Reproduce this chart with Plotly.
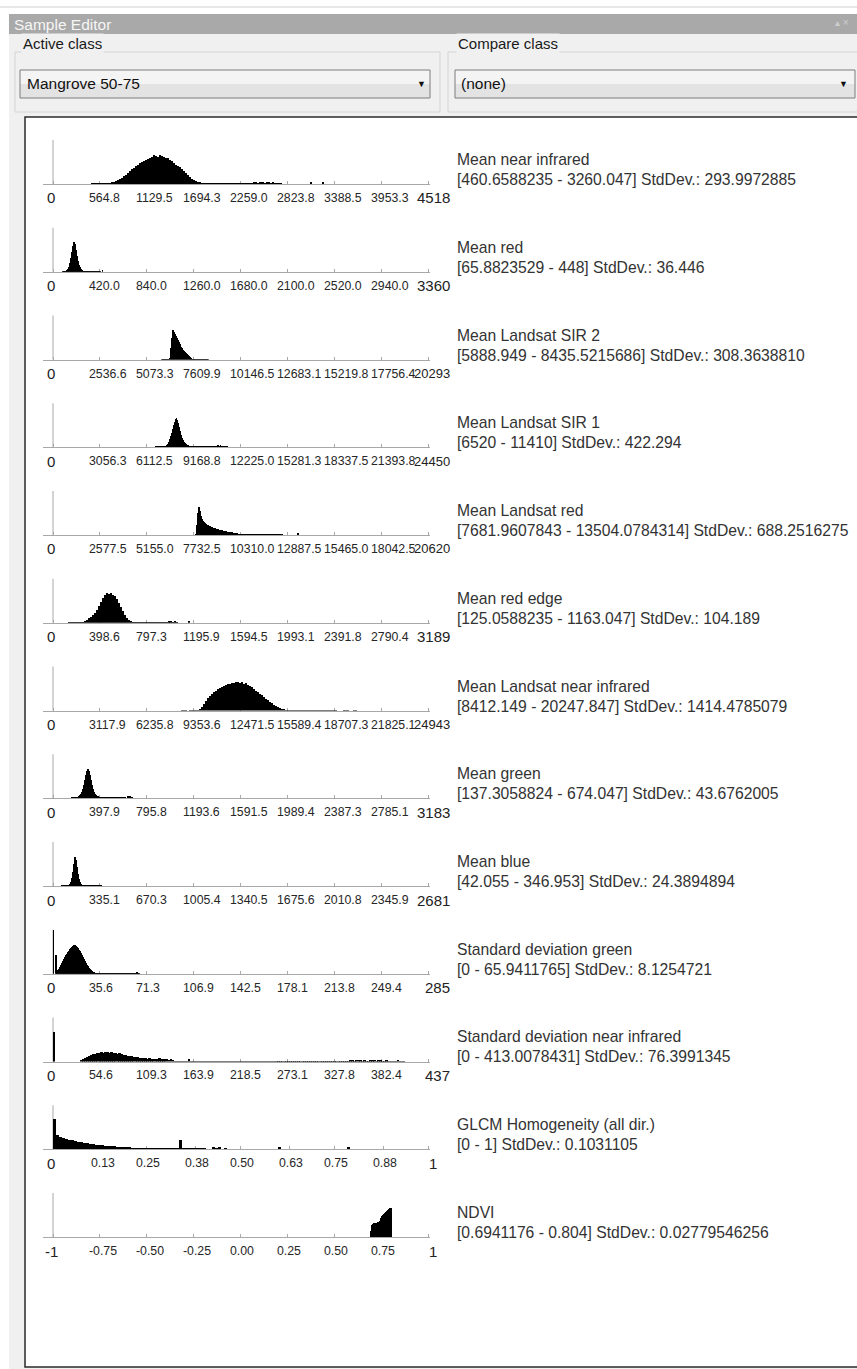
import plotly.graph_objects as go

W, H = 857, 1369

# ---------------------------------------------------------------- data
feature_names = [
    "Mean near infrared", "Mean red", "Mean Landsat SIR 2", "Mean Landsat SIR 1",
    "Mean Landsat red", "Mean red edge", "Mean Landsat near infrared", "Mean green",
    "Mean blue", "Standard deviation green", "Standard deviation near infrared",
    "GLCM Homogeneity (all dir.)", "NDVI",
]
range_lo = ["460.6588235", "65.8823529", "5888.949", "6520", "7681.9607843", "125.0588235",
            "8412.149", "137.3058824", "42.055", "0", "0", "0", "0.6941176"]
range_hi = ["3260.047", "448", "8435.5215686", "11410", "13504.0784314", "1163.047",
            "20247.847", "674.047", "346.953", "65.9411765", "413.0078431", "1", "0.804"]
std_dev = ["293.9972885", "36.446", "308.3638810", "422.294", "688.2516275", "104.189",
           "1414.4785079", "43.6762005", "24.3894894", "8.1254721", "76.3991345",
           "0.1031105", "0.02779546256"]

tick_labels = [
    ["0", "564.8", "1129.5", "1694.3", "2259.0", "2823.8", "3388.5", "3953.3", "4518"],
    ["0", "420.0", "840.0", "1260.0", "1680.0", "2100.0", "2520.0", "2940.0", "3360"],
    ["0", "2536.6", "5073.3", "7609.9", "10146.5", "12683.1", "15219.8", "17756.4", "20293"],
    ["0", "3056.3", "6112.5", "9168.8", "12225.0", "15281.3", "18337.5", "21393.8", "24450"],
    ["0", "2577.5", "5155.0", "7732.5", "10310.0", "12887.5", "15465.0", "18042.5", "20620"],
    ["0", "398.6", "797.3", "1195.9", "1594.5", "1993.1", "2391.8", "2790.4", "3189"],
    ["0", "3117.9", "6235.8", "9353.6", "12471.5", "15589.4", "18707.3", "21825.1", "24943"],
    ["0", "397.9", "795.8", "1193.6", "1591.5", "1989.4", "2387.3", "2785.1", "3183"],
    ["0", "335.1", "670.3", "1005.4", "1340.5", "1675.6", "2010.8", "2345.9", "2681"],
    ["0", "35.6", "71.3", "106.9", "142.5", "178.1", "213.8", "249.4", "285"],
    ["0", "54.6", "109.3", "163.9", "218.5", "273.1", "327.8", "382.4", "437"],
    ["0", "0.13", "0.25", "0.38", "0.50", "0.63", "0.75", "0.88", "1"],
    ["-1", "-0.75", "-0.50", "-0.25", "0.00", "0.25", "0.50", "0.75", "1"],
]

# relative sample frequency per bin, bins spanning [range_lo, range_hi]
freq_mean_nir = [
    1, 1, 1, 1, 1, 1, 1, 1, 1, 1,
    2, 2, 3, 4, 5, 6, 8, 9, 11, 13, 15,
    16, 18, 19, 21, 22, 23, 24,
    25, 26, 27, 29, 28, 27, 29, 28, 27, 26, 26,
    24, 23, 21, 19, 18, 17,
    15, 13, 11, 9, 7,
    5, 4, 3, 2, 2,
    1, 1, 1, 1, 1, 1, 1, 1, 1, 1, 1, 1, 1, 1, 1, 1, 1, 1, 1, 1,
    1, 1, 1, 1, 1, 1, 2, 2, 1, 2, 2, 1, 2, 2, 1, 2, 1, 1, 1, 1, 0,
    0, 0, 0, 0, 0, 0, 0, 0, 0, 0, 0, 0, 0, 2, 0, 0, 0, 0, 0, 2,
]
freq_mean_red = [
    0, 0, 1, 1, 1, 1, 2, 3,
    5, 9, 14, 20, 26, 30, 28, 22, 16, 11, 7, 5, 3, 2,
    1, 1, 1, 1, 1, 1, 1, 1, 1, 1, 1, 1, 1, 1, 1, 1, 1, 1,
    0, 0, 2,
]
freq_sir2 = [
    1, 1, 1, 1, 1, 1, 1, 1, 2,
    12, 22, 30, 28, 26,
    24, 22, 20, 18, 16, 13, 12, 10, 9,
    8, 7, 6, 5, 4, 3, 2,
    1, 1, 1, 1, 1, 1, 1, 1, 1, 1, 1, 1, 1, 1, 1, 1, 1,
]
freq_sir1 = [
    0, 0, 1, 1, 1, 1, 1, 1, 1, 1, 1, 1, 1, 2,
    3, 5, 8, 11, 14, 18, 22, 25, 28, 29, 27, 24, 20, 16, 12, 9, 7, 5, 4, 3, 2, 2, 1,
    1, 1, 1, 1, 1, 1, 1, 1, 1, 1, 1, 1, 1, 1, 1, 1, 1, 1, 1, 1,
    1, 1, 1, 1, 1, 1, 1, 2, 2, 1, 2, 1, 1, 1, 1, 1, 1, 1,
]
freq_landsat_red = [
    0, 0, 0, 1,
    10, 22, 28, 24, 19, 16,
    14, 13, 12, 11, 10, 10, 9, 9, 8, 8,
    7, 7, 7, 6, 6, 6, 5, 5, 5, 5,
    4, 4, 4, 4, 3, 3, 3, 3, 3, 3, 2, 2, 2, 2, 2,
    1, 1, 1, 1, 1, 1, 1, 1, 1, 1, 1, 1, 1, 1, 1, 1, 1, 1, 1, 1, 1, 1, 1,
    1, 1, 1, 1, 1, 1, 1, 1, 1, 1, 1, 1, 1, 1, 1, 1, 1, 1, 1, 1, 1, 1,
    0, 0, 0, 0, 0, 0, 0, 0, 0, 0, 0, 0, 0, 0, 0, 2,
]
freq_red_edge = [
    1, 1, 1, 1, 1, 1, 1, 1, 2,
    3, 5, 6, 8, 10, 13, 17,
    21, 25, 28, 30, 29, 30, 28, 27,
    24, 20, 16, 12, 8, 5, 3, 2, 1,
    1, 1, 1, 1, 1, 1, 1, 1, 1, 1, 1, 1, 1, 1, 1, 1,
    1, 2, 2, 1, 2, 1,
    0, 0, 0, 0, 0,
    2,
]
freq_landsat_nir = [
    0, 1, 1, 1, 0, 1, 1, 1, 1, 1, 2,
    4, 7, 10, 13, 15, 17, 19, 20, 22, 23, 24, 25, 26, 27, 27, 28, 28, 29, 29,
    28, 29, 27, 28, 26, 25, 24, 22, 20, 19, 17, 16, 14, 12, 11, 9, 8, 6, 5, 4, 3, 2, 2,
    1, 1, 1, 1, 1, 1, 1, 1, 1, 1, 1, 1, 1, 1, 1, 1, 1, 1, 1, 1, 1, 1, 1, 1, 1, 1,
    0, 0, 0, 1, 1, 1, 0, 0, 1, 1,
]
freq_green = [
    0, 0, 1, 1, 1, 1, 1, 1, 1, 2, 3,
    4, 6, 9, 13, 18, 23, 27, 29, 27, 23, 18, 13, 9, 6, 4, 3, 2, 2,
    1, 1, 1, 1, 1, 1, 1, 1, 1, 1, 1, 1, 1, 1, 1, 1, 1, 1, 1, 1, 1, 1, 1, 1, 1, 1, 1,
    0, 0, 2, 0, 2, 0, 1,
]
freq_blue = [
    0, 0, 0, 1, 1, 1, 1, 1, 1, 1, 1, 2,
    4, 8, 14, 22, 29, 26, 19, 12, 7, 4, 2,
    1, 1, 1, 1, 1, 1, 1, 1, 1, 1, 1, 1, 1, 1, 1, 1, 1, 1, 1, 1,
]
freq_sd_green = [
    44, 0, 0, 19,
    3, 4, 5, 7, 9,
    11, 13, 15, 17, 19, 20, 22, 23, 25, 26, 27, 28, 29, 29,
    28, 27, 26, 24, 23, 21, 19, 17, 15, 13, 11, 9, 8, 6, 5, 4, 3, 2, 2,
    1, 1, 1, 1, 1, 1, 1, 1, 1, 1, 1, 1, 1, 1, 1, 1, 1, 1, 1, 1, 1,
    1, 1, 1, 1, 1, 1, 1, 1, 1, 1, 1, 1, 1, 1, 1, 1, 1, 1, 1, 1, 1,
    2, 1, 1,
]
freq_sd_nir = [
    30,
    0, 0, 0, 0, 0, 0, 0, 0, 0, 0, 0, 0, 0,
    2, 3, 4, 5, 6, 7, 8, 8, 9, 9,
    10, 9, 10, 10, 9, 10, 9, 9, 8, 9,
    8, 7, 7, 6, 6, 6, 5, 5, 5, 4,
    4, 4, 4, 3, 4, 3, 3, 3, 3, 4, 3, 3, 3, 3, 2, 3, 2,
    1, 1, 1, 1, 1, 1, 1,
    3,
    1, 1, 1, 1, 1, 1, 1, 1, 1, 1, 1, 1, 1, 1, 1, 1, 1, 1, 1, 1,
    1, 1, 1, 1, 1, 1, 1, 1, 1, 1, 1, 1, 1, 1, 1, 1, 1, 1, 1, 1,
    1, 1, 1, 1, 1, 1, 1, 1, 1, 1, 1, 1, 1, 1, 1, 1, 1, 1, 1, 1,
    1, 1, 1, 1, 1, 1, 1, 1, 1, 1, 1, 1, 1, 1, 1, 1, 1, 1,
    1, 1, 2, 2, 1, 2, 2, 2, 1, 2, 1, 1, 2, 2, 2, 1, 2, 2, 1, 1, 2, 1, 1, 1, 1, 1, 2, 1, 1, 1, 0,
]
freq_glcm = [
    30, 14, 12, 11, 10, 9, 9, 8, 7, 7, 6, 6, 5, 5, 4, 4, 4, 3, 3, 3, 3, 2,
    2, 2, 2, 2, 1, 1, 1, 1,
    1, 1, 1, 1, 1, 1, 1, 1, 1, 1, 1, 1,
    9,
    1, 1, 1, 1, 1, 1, 1, 1,
    0, 0,
    2, 1, 2, 0, 1, 0,
    0, 0, 0, 0, 0, 0, 0, 0, 0, 0, 0, 0, 0, 0, 0, 0,
    2,
    0, 0, 0, 0, 0, 0, 0, 0, 0, 0, 0, 0, 0, 0, 0, 0, 0, 0, 0, 0, 0, 0,
    2,
    0, 0, 0, 0, 0, 0, 0, 0, 0, 0, 0, 0, 0, 0, 0, 0, 0, 0, 0, 0, 0, 0, 0, 0, 0, 0,
]
freq_ndvi = [6, 12, 13, 14, 14, 14, 14, 15, 15, 16, 19, 21, 22, 23, 24, 25, 26, 27, 28, 29, 29]

frequencies = [
    freq_mean_nir, freq_mean_red, freq_sir2, freq_sir1, freq_landsat_red, freq_red_edge,
    freq_landsat_nir, freq_green, freq_blue, freq_sd_green, freq_sd_nir, freq_glcm, freq_ndvi,
]

# ---------------------------------------------------------------- layout helpers
FONT = "Liberation Sans, Arial, sans-serif"
AXIS_GREY = "#a8a8a8"
ROW0_BASE, ROW_STEP, AXIS_H = 184.0, 87.75, 44.0
X_LEFT, X_ZERO, X_END, X_RIGHT = 43.0, 53.0, 428.0, 430.0
LABEL_RIGHT = 452.0
TEXT_X = 455.0


def px(x):
    return x / W


def py(y):
    return 1 - y / H


def rect(x0, y0, x1, y1, fill, line=None, lw=0):
    return dict(type="rect", xref="paper", yref="paper", layer="below",
                x0=px(x0), x1=px(x1), y0=py(y1), y1=py(y0),
                fillcolor=fill, line=dict(color=line or fill, width=lw))


shapes = [
    dict(type="line", xref="paper", yref="paper", layer="below",
         x0=0, x1=1, y0=py(7), y1=py(7), line=dict(color="#cfcfcf", width=1)),
    rect(9, 14, W, H, "#f0f0f0"),
    rect(9, 14, W, 34, "#a9a9a9"),
    rect(15, 52, 440, 112, "rgba(0,0,0,0)", "#d4d4d4", 1),
    rect(448, 52, W + 3, 112, "rgba(0,0,0,0)", "#d4d4d4", 1),
    rect(20, 70, 430, 84, "#f4f4f4"),
    rect(20, 84, 430, 98, "#e3e3e3"),
    rect(20, 70, 430, 98, "rgba(0,0,0,0)", "#7d7d7d", 1),
    rect(455, 70, 855, 84, "#f4f4f4"),
    rect(455, 84, 855, 98, "#e3e3e3"),
    rect(455, 70, 855, 98, "rgba(0,0,0,0)", "#7d7d7d", 1),
    rect(25, 117, W + 5, 1367, "white", "#2a2a2a", 1.5),
]


def label(x, y, text, size, color="#1a1a1a", bg=None, anchor="left"):
    d = dict(xref="paper", yref="paper", x=px(x), y=py(y), text=text, showarrow=False,
             xanchor=anchor, yanchor="middle", font=dict(family=FONT, size=size, color=color))
    if bg:
        d["bgcolor"] = bg
    return d


annotations = [
    label(12, 24, "Sample Editor", 15.5, color="#f6f6f6"),
    label(851, 23, "▴ ×", 10, color="#cdcdcd", anchor="right"),
    label(21, 44, "Active class", 15, bg="#f0f0f0"),
    label(456, 44, "Compare class", 15, bg="#f0f0f0"),
    label(25, 84, "Mangrove 50-75", 15.5, color="#111111"),
    label(459, 84, "(none)", 15.5, color="#111111"),
    label(421, 84, "▼", 9, color="#111111", anchor="center"),
    label(843, 84, "▼", 9, color="#111111", anchor="center"),
]

fig = go.Figure()
layout_axes = {}

for i, heights in enumerate(frequencies):
    suffix = "" if i == 0 else str(i + 1)
    xa, ya = f"x{suffix}", f"y{suffix}"
    lo, hi = float(range_lo[i]), float(range_hi[i])
    bin_w = (hi - lo) / len(heights)
    centers = [lo + (k + 0.5) * bin_w for k in range(len(heights))]

    fig.add_trace(go.Bar(
        x=centers, y=heights, width=bin_w, xaxis=xa, yaxis=ya,
        marker=dict(color="black", line=dict(width=0)),
        hoverinfo="skip", showlegend=False,
    ))

    ticks = tick_labels[i]
    tick_vals = [float(t) for t in ticks]
    t_min, t_max = tick_vals[0], tick_vals[-1]
    unit = (t_max - t_min) / (X_END - X_ZERO)
    base = ROW0_BASE + ROW_STEP * i

    layout_axes[f"xaxis{suffix}"] = dict(
        domain=[px(X_LEFT), px(X_RIGHT)], anchor=ya,
        range=[t_min - (X_ZERO - X_LEFT) * unit, t_max + (X_RIGHT - X_END) * unit],
        showline=True, linecolor=AXIS_GREY, linewidth=1, layer="below traces",
        ticks="inside", ticklen=3, tickwidth=1, tickcolor=AXIS_GREY,
        tickmode="array", tickvals=tick_vals, showticklabels=False,
        showgrid=False, zeroline=False, fixedrange=True,
    )
    layout_axes[f"yaxis{suffix}"] = dict(
        domain=[py(base), py(base - AXIS_H)], anchor=xa, range=[0, AXIS_H],
        visible=False, fixedrange=True,
    )

    # vertical axis at the start of the value scale
    shapes.append(dict(type="line", xref=xa, yref=f"{ya} domain", layer="below",
                       x0=t_min, x1=t_min, y0=0, y1=1,
                       line=dict(color=AXIS_GREY, width=1)))

    # scale labels: inner labels start just left of their tick, the end labels
    # are larger; a long end value is set a little smaller so it stays clear
    last = len(ticks) - 1
    for k, text in enumerate(ticks):
        ann = dict(xref=xa, yref=f"{ya} domain", x=tick_vals[k], y=0, text=text,
                   showarrow=False, yanchor="middle", yshift=-14)
        if k == 0:
            ann.update(xanchor="center", xshift=-2,
                       font=dict(family=FONT, size=15, color="#222222"))
        elif k == last:
            if len(text) >= 3:
                ann.update(xanchor="right", xshift=LABEL_RIGHT - X_END,
                           font=dict(family=FONT, size=13 if len(text) >= 5 else 15,
                                     color="#222222"))
            else:
                ann.update(xanchor="center", xshift=5,
                           font=dict(family=FONT, size=15, color="#222222"))
        else:
            ann.update(xanchor="left", xshift=-12.5,
                       font=dict(family=FONT, size=12.3, color="#262626"))
        annotations.append(ann)

    # feature caption
    annotations.append(dict(
        xref="paper", yref=f"{ya} domain", x=px(TEXT_X), y=0, yshift=24.5,
        text=feature_names[i], showarrow=False, xanchor="left", yanchor="middle",
        font=dict(family=FONT, size=15.7, color="#333333"),
    ))
    annotations.append(dict(
        xref="paper", yref=f"{ya} domain", x=px(TEXT_X), y=0, yshift=4.5,
        text=f"[{range_lo[i]} - {range_hi[i]}] StdDev.: {std_dev[i]}",
        showarrow=False, xanchor="left", yanchor="middle",
        font=dict(family=FONT, size=15.7, color="#333333"),
    ))

fig.update_layout(
    width=W, height=H, autosize=False,
    margin=dict(l=0, r=0, t=0, b=0),
    paper_bgcolor="white", plot_bgcolor="rgba(0,0,0,0)",
    bargap=0, showlegend=False,
    shapes=shapes, annotations=annotations,
    **layout_axes,
)

fig.write_html("out.html", config={"displayModeBar": False})
